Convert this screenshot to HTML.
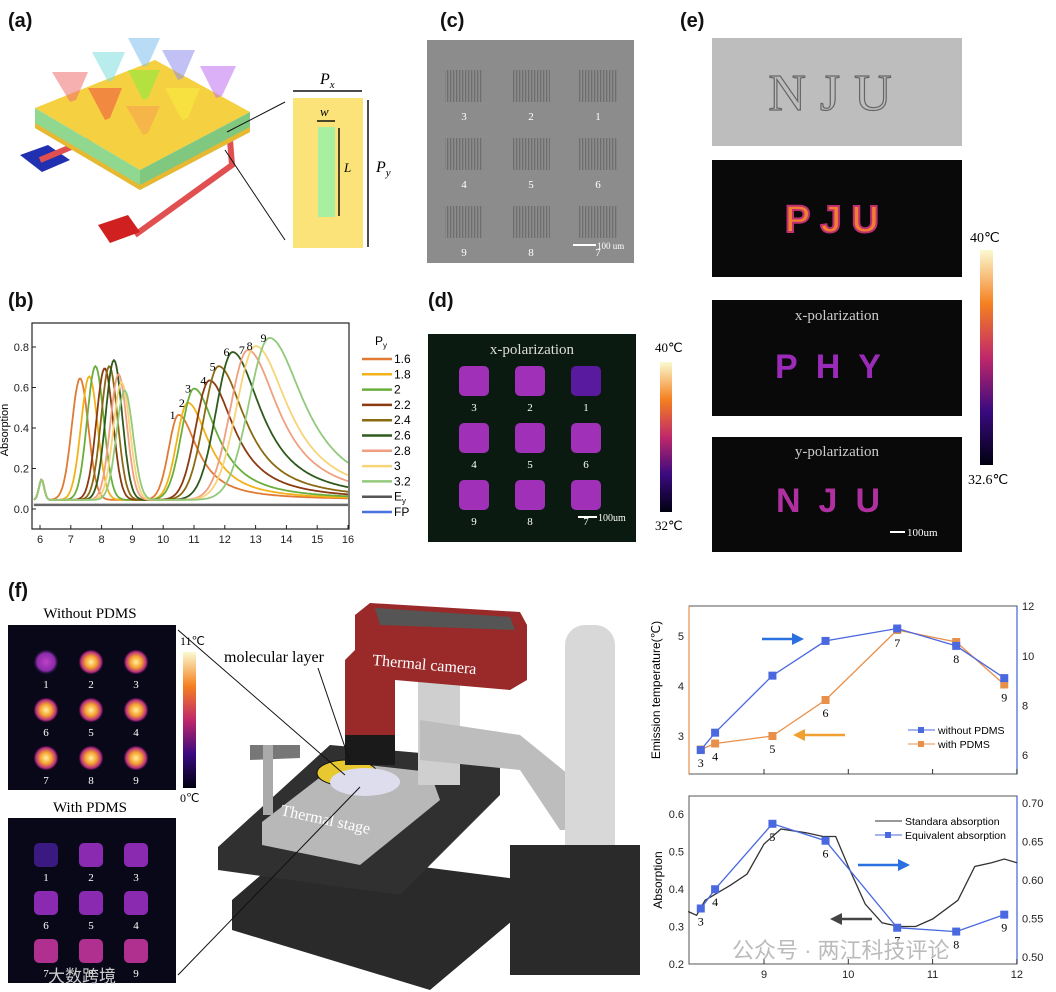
<!DOCTYPE html>
<html><head><meta charset="utf-8">
<style>
html,body{margin:0;padding:0;background:#fff;}
svg{display:block;font-family:"Liberation Sans",sans-serif;}
.lab{font-weight:bold;font-size:20px;fill:#111;}
.serif{font-family:"Liberation Serif",serif;}
.tk{font-size:11px;fill:#222;}
</style></head><body>
<svg id="fig" width="1056" height="992" viewBox="0 0 1056 992" xmlns="http://www.w3.org/2000/svg">
<defs>
<linearGradient id="cb1" x1="0" y1="1" x2="0" y2="0"><stop offset="0" stop-color="#000010"/><stop offset="0.25" stop-color="#3a0a80"/><stop offset="0.5" stop-color="#c0286a"/><stop offset="0.75" stop-color="#f58020"/><stop offset="1" stop-color="#fafad0"/></linearGradient>
<radialGradient id="sqp"><stop offset="0" stop-color="#c040c8"/><stop offset="0.7" stop-color="#8a2aa8"/><stop offset="1" stop-color="#101030" stop-opacity="0"/></radialGradient>
<radialGradient id="sqy"><stop offset="0" stop-color="#fff0a0"/><stop offset="0.45" stop-color="#f5a030"/><stop offset="0.8" stop-color="#b02880"/><stop offset="1" stop-color="#100020" stop-opacity="0"/></radialGradient>
<pattern id="grating" width="3" height="6" patternUnits="userSpaceOnUse"><rect width="1.3" height="6" fill="#666"/></pattern>
</defs>

<!-- (a) -->
<g>
<text class="lab" x="8" y="27">(a)</text>
<polygon points="20,155 48,145 70,160 42,172" fill="#2030b0"/>
<polyline points="40,160 100,135" stroke="#e05050" stroke-width="6" fill="none"/>
<polyline points="230,140 232,165 135,235" stroke="#e05050" stroke-width="6" fill="none"/>
<polygon points="98,225 128,215 140,232 110,243" fill="#d02020"/>
<polygon points="35,108 155,60 250,112 140,170" fill="#f5d040"/>
<polygon points="35,108 140,170 140,190 35,128" fill="#90d890"/>
<polygon points="140,170 250,112 250,132 140,190" fill="#80c880"/>
<polygon points="35,123 140,185 250,127 250,132 140,190 35,128" fill="#e8b830"/>
<g opacity="0.55">
<polygon points="52,72 88,72 76,100 70,102" fill="#f07070"/>
<polygon points="92,52 125,52 113,80 108,82" fill="#80e0e0"/>
<polygon points="128,38 160,38 148,65 143,67" fill="#80c0f0"/>
<polygon points="162,50 195,50 183,78 178,80" fill="#9090f0"/>
<polygon points="200,66 236,66 222,96 216,98" fill="#c070f0"/>
<polygon points="88,88 122,88 110,118 105,120" fill="#f05040"/>
<polygon points="128,70 160,70 148,98 143,100" fill="#80f040"/>
<polygon points="165,88 200,88 188,118 182,120" fill="#f8f040"/>
<polygon points="126,106 160,106 148,133 143,135" fill="#f8a050"/>
</g>
<rect x="293" y="98" width="70" height="150" fill="#fbe37a"/>
<rect x="318" y="127" width="17" height="90" fill="#a8f0a0"/>
<line x1="285" y1="102" x2="227" y2="132" stroke="#111"/>
<line x1="285" y1="240" x2="225" y2="150" stroke="#111"/>
<line x1="293" y1="91" x2="362" y2="91" stroke="#111" stroke-width="1.5"/>
<line x1="368" y1="100" x2="368" y2="247" stroke="#111" stroke-width="1.5"/>
<line x1="339" y1="128" x2="339" y2="216" stroke="#111" stroke-width="1.5"/>
<line x1="317" y1="121" x2="335" y2="121" stroke="#111" stroke-width="1.5"/>
<text class="serif" x="320" y="84" font-size="16" font-style="italic">P<tspan font-size="11" dy="4">x</tspan></text>
<text class="serif" x="320" y="116" font-size="13" font-style="italic">w</text>
<text class="serif" x="344" y="172" font-size="13" font-style="italic">L</text>
<text class="serif" x="376" y="172" font-size="16" font-style="italic">P<tspan font-size="11" dy="4">y</tspan></text>
</g>

<!-- (b) chart -->
<g id="chartB">
<text class="lab" x="8" y="307">(b)</text>
<rect x="32" y="323" width="317" height="206" fill="none" stroke="#222" stroke-width="1.2"/>
<text x="8" y="430" font-size="11" transform="rotate(-90 8 430)" text-anchor="middle">Absorption</text>
<g id="bAxes"></g><g id="bLines"></g><g id="bLegend"></g>
</g>

<!-- (c) -->
<g>
<text class="lab" x="440" y="27">(c)</text>
<rect x="427" y="40" width="207" height="223" fill="#8c8c8c"/>
<g id="semGrid"></g>
<line x1="573" y1="245" x2="596" y2="245" stroke="#fff" stroke-width="2"/>
<text x="597" y="249" font-size="9" fill="#fff" class="serif">100 um</text>
</g>

<!-- (d) -->
<g>
<text class="lab" x="428" y="307">(d)</text>
<rect x="428" y="334" width="208" height="208" fill="#0a1a10"/>
<text class="serif" x="532" y="354" font-size="15" fill="#ddd" text-anchor="middle">x-polarization</text>
<g id="dSquares"></g>
<line x1="578" y1="517" x2="597" y2="517" stroke="#fff" stroke-width="2"/>
<text x="598" y="521" font-size="10" fill="#fff" class="serif">100um</text>
<rect x="660" y="362" width="12" height="150" fill="url(#cb1)"/>
<text class="serif" x="655" y="352" font-size="13">40℃</text>
<text class="serif" x="655" y="530" font-size="13">32℃</text>
</g>

<!-- (e) -->
<g>
<text class="lab" x="680" y="27">(e)</text>
<rect x="712" y="38" width="250" height="108" fill="#bdbdbd"/>
<text class="serif" x="837" y="110" font-size="52" fill="none" stroke="#666" stroke-width="1.2" text-anchor="middle" letter-spacing="14">NJU</text>
<rect x="712" y="160" width="250" height="117" fill="#090909"/>
<text x="837" y="232" font-size="38" font-weight="bold" fill="#f08030" stroke="#c03070" stroke-width="2" text-anchor="middle" letter-spacing="10">PJU</text>
<rect x="712" y="300" width="250" height="116" fill="#090909"/>
<text class="serif" x="837" y="320" font-size="15" fill="#ccc" text-anchor="middle">x-polarization</text>
<text x="837" y="378" font-size="34" font-weight="bold" fill="#9a2ab8" text-anchor="middle" letter-spacing="18">PHY</text>
<rect x="712" y="437" width="250" height="115" fill="#090909"/>
<text class="serif" x="837" y="456" font-size="15" fill="#ccc" text-anchor="middle">y-polarization</text>
<text x="837" y="512" font-size="34" font-weight="bold" fill="#b030a0" text-anchor="middle" letter-spacing="18">NJU</text>
<line x1="890" y1="532" x2="905" y2="532" stroke="#fff" stroke-width="2"/>
<text x="907" y="536" font-size="11" fill="#fff" class="serif">100um</text>
<rect x="980" y="250" width="13" height="215" fill="url(#cb1)"/>
<text class="serif" x="970" y="242" font-size="14">40℃</text>
<text class="serif" x="968" y="484" font-size="14">32.6℃</text>
</g>

<!-- (f) thermal maps -->
<g>
<text class="lab" x="8" y="597">(f)</text>
<text class="serif" x="90" y="618" font-size="15" text-anchor="middle">Without PDMS</text>
<rect x="8" y="625" width="168" height="165" fill="#080818"/>
<text class="serif" x="90" y="812" font-size="15" text-anchor="middle">With PDMS</text>
<rect x="8" y="818" width="168" height="165" fill="#080818"/>
<g id="fSquares"></g>
<rect x="183" y="652" width="13" height="136" fill="url(#cb1)"/>
<text class="serif" x="180" y="645" font-size="12">11℃</text>
<text class="serif" x="180" y="802" font-size="12">0℃</text>
</g>

<!-- (f) apparatus -->
<g>
<polygon points="232,900 290,850 525,880 525,910 430,990 232,930" fill="#2a2a2a"/>
<polygon points="218,847 330,745 500,760 500,795 400,895 218,870" fill="#303030"/>
<polygon points="262,822 340,762 430,772 440,800 360,865 262,845" fill="#b8b8b8"/>
<ellipse cx="347" cy="773" rx="30" ry="13" fill="#e8c830" stroke="#111"/>
<rect x="418" y="665" width="42" height="120" fill="#cfcfcf"/>
<polygon points="250,745 300,745 300,758 250,760" fill="#777"/>
<rect x="263" y="745" width="10" height="70" fill="#aaa"/>
<polygon points="420,720 520,735 600,800 600,830 560,830 520,770 420,760" fill="#bdbdbd"/>
<rect x="565" y="625" width="50" height="250" rx="20" fill="#d8d8d8"/>
<rect x="510" y="845" width="130" height="130" fill="#2a2a2a"/>
<polygon points="355,615 370,603 520,612 527,625 527,680 510,690 395,680 395,740 345,740 345,660 355,650" fill="#9a2a2a"/>
<polygon points="375,608 510,617 515,630 380,625" fill="#555"/>
<rect x="345" y="735" width="50" height="30" fill="#1a1a1a"/>
<ellipse cx="365" cy="782" rx="35" ry="14" fill="#dde" />
<text class="serif" x="372" y="665" font-size="16" fill="#fff" transform="rotate(5 372 665)">Thermal camera</text>
<text class="serif" x="280" y="815" font-size="16" fill="#fff" transform="rotate(12 280 815)">Thermal stage</text>
<text class="serif" x="224" y="662" font-size="16">molecular layer</text>
<line x1="178" y1="630" x2="345" y2="775" stroke="#111"/>
<line x1="178" y1="975" x2="360" y2="787" stroke="#111"/>
<line x1="318" y1="668" x2="350" y2="762" stroke="#111"/>
</g>

<!-- (f) right charts -->
<g id="chartF1">
<rect x="689" y="606" width="328" height="168" fill="none" stroke="#555"/>
<line x1="689" y1="606" x2="689" y2="774" stroke="#e8904a" stroke-width="1.2"/>
<line x1="1017" y1="606" x2="1017" y2="774" stroke="#4060e0" stroke-width="1.2"/>
<text x="660" y="690" font-size="12" transform="rotate(-90 660 690)" text-anchor="middle">Emission temperature(℃)</text>
<g id="f1Axes"></g><g id="f1Lines"></g>
</g>
<g id="chartF2">
<rect x="689" y="796" width="328" height="168" fill="none" stroke="#555"/>
<line x1="1017" y1="796" x2="1017" y2="964" stroke="#4060e0" stroke-width="1.2"/>
<text x="662" y="880" font-size="12" transform="rotate(-90 662 880)" text-anchor="middle">Absorption</text>
<g id="f2Axes"></g><g id="f2Lines"></g>
</g>
<text x="732" y="958" font-size="22" fill="#bbb" font-family="'Liberation Sans','Noto Sans CJK SC',sans-serif">公众号 · 两江科技评论</text>
<text x="48" y="982" font-size="17" fill="#ccc" font-family="'Liberation Sans','Noto Sans CJK SC',sans-serif">大数跨境</text>
</svg>
<script>
// ---------- Panel (b) data ----------
const bSeriesNames = ["1.6","1.8","2","2.2","2.4","2.6","2.8","3","3.2"];
const bColors = ["#e07a35","#f2b21a","#6aae3c","#8b3a12","#8a6a12","#2e5a1c","#f0a080","#f8d478","#92c97a"];
const bPeak1Pos = [7.3,7.6,7.8,8.1,8.25,8.4,8.55,8.65,8.75];
const bPeak1Height = [0.60,0.61,0.66,0.65,0.66,0.69,0.62,0.58,0.54];
const bPeak2Pos = [10.5,10.8,11.0,11.5,11.8,12.25,12.75,13.0,13.45];
const bPeak2Height = [0.42,0.48,0.55,0.59,0.66,0.73,0.74,0.76,0.80];
const bPeakLabels = ["1","2","3","4","5","6","7","8","9"];
const bXTicks = [6,7,8,9,10,11,12,13,14,15,16];
const bYTicks = [0.0,0.2,0.4,0.6,0.8];
const bEyLevel = 0.02;

// ---------- Panel (f) top data ----------
const fX = [8.25,8.42,9.1,9.73,10.58,11.28,11.85];
const fLabels = ["3","4","5","6","7","8","9"];
const fWithout = [6.2,6.9,9.2,10.6,11.1,10.4,9.1];
const fWith = [2.73,2.85,3.0,3.72,5.12,4.88,4.03];
const f1XTicks = [9,10,11,12];
const f1LeftTicks = [3,4,5];
const f1RightTicks = [6,8,10,12];
// ---------- Panel (f) bottom data ----------
const fEquiv = [0.563,0.588,0.673,0.651,0.538,0.533,0.555];
const stdX = [8.1,8.2,8.3,8.45,8.6,8.8,9.0,9.2,9.5,9.7,9.85,10.0,10.2,10.4,10.6,10.8,11.0,11.3,11.5,11.7,11.85,12.0];
const stdY = [0.34,0.33,0.37,0.39,0.41,0.44,0.52,0.56,0.55,0.54,0.54,0.46,0.36,0.31,0.30,0.30,0.32,0.37,0.46,0.47,0.48,0.47];
const f2LeftTicks = [0.2,0.3,0.4,0.5,0.6];
const f2RightTicks = [0.50,0.55,0.60,0.65,0.70];

const NS="http://www.w3.org/2000/svg";
function mk(tag,attrs,parent){const e=document.createElementNS(NS,tag);for(const k in attrs)e.setAttribute(k,attrs[k]);parent.appendChild(e);return e;}

// ----- (b)
const bx=v=>40+(v-6)*30.8, by=v=>509-v*202.5;
const bA=document.getElementById('bAxes');
bXTicks.forEach(t=>{mk('line',{x1:bx(t),x2:bx(t),y1:529,y2:525,stroke:'#222'},bA);const tx=mk('text',{x:bx(t),y:543,'text-anchor':'middle',class:'tk'},bA);tx.textContent=t;

});
bYTicks.forEach(t=>{mk('line',{x1:32,x2:36,y1:by(t),y2:by(t),stroke:'#222'},bA);const tx=mk('text',{x:29,y:by(t)+4,'text-anchor':'end',class:'tk'},bA);tx.textContent=t.toFixed(1);

});
const bL=document.getElementById('bLines');
function bShape(x,i){
  let y=0.045;
  y+=0.1*Math.exp(-Math.pow((x-6.05)/0.12,2));
  const w1=0.38;y+=bPeak1Height[i]*Math.exp(-Math.pow((x-bPeak1Pos[i])/w1,2));
  const d=x-bPeak2Pos[i];
  if(d<0){const w=0.45+0.06*i;y+=bPeak2Height[i]*Math.exp(-Math.pow(d/w,2));}
  else{const w=0.75+0.08*i;y+=bPeak2Height[i]/(1+Math.pow(d/w,2));}
  return y;
}
bSeriesNames.forEach((n,i)=>{let d='';for(let x=5.8;x<=16.001;x+=0.04){d+=(d?'L':'M')+bx(x).toFixed(1)+','+by(bShape(x,i)).toFixed(1);}
const p=mk('path',{d:d,fill:'none',stroke:bColors[i],'stroke-width':1.8},bL);


const t=mk('text',{x:bx(bPeak2Pos[i])-6,y:by(bPeak2Height[i])-5,'text-anchor':'middle','font-size':12,class:'serif'},bL);t.textContent=bPeakLabels[i];

});
{let d='';for(let x=5.8;x<=16.001;x+=0.1){d+=(d?'L':'M')+bx(x).toFixed(1)+','+by(bEyLevel).toFixed(1);}
const p=mk('path',{d:d,fill:'none',stroke:'#666','stroke-width':2.5},bL);

}
const bLg=document.getElementById('bLegend');
{const t=mk('text',{x:375,y:345,'font-size':12},bLg);t.textContent='P';mk('tspan',{'font-size':8,dy:3},t).textContent='y';}
const legNames=bSeriesNames.concat(['E','FP']);const legCols=bColors.concat(['#555','#4a70e0']);
legNames.forEach((n,i)=>{const y=359+i*15.3;mk('line',{x1:362,x2:392,y1:y,y2:y,stroke:legCols[i],'stroke-width':2.5},bLg);
const t=mk('text',{x:394,y:y+4,'font-size':12},bLg);t.textContent=n;if(n==='E')mk('tspan',{'font-size':8,dy:3},t).textContent='y';

});

// ----- (c) SEM grid
const sg=document.getElementById('semGrid');
const semNums=[["3","2","1"],["4","5","6"],["9","8","7"]];
for(let r=0;r<3;r++)for(let c=0;c<3;c++){const x=445+c*67,y=70+r*68;
mk('rect',{x:x,y:y,width:38,height:32,fill:'url(#grating)',opacity:0.8},sg);
const t=mk('text',{x:x+19,y:y+50,'text-anchor':'middle','font-size':11,fill:'#fff',class:'serif'},sg);t.textContent=semNums[r][c];}
// ----- (d)
const ds=document.getElementById('dSquares');
for(let r=0;r<3;r++)for(let c=0;c<3;c++){const x=474+c*56,y=381+r*57;
mk('rect',{x:x-15,y:y-15,width:30,height:30,rx:5,fill:(r===0&&c===2)?'#5a1aa0':'#a030b8'},ds);
const t=mk('text',{x:x,y:y+30,'text-anchor':'middle','font-size':11,fill:'#fff',class:'serif'},ds);t.textContent=semNums[r][c];}
// ----- (f) maps
const fs=document.getElementById('fSquares');
const fNums=[["1","2","3"],["6","5","4"],["7","8","9"]];
for(let r=0;r<3;r++)for(let c=0;c<3;c++){
const x=46+c*45,y=662+r*48;const bright=(r>0)||c>0;
mk('rect',{x:x-13,y:y-13,width:26,height:26,rx:6,fill:bright?'url(#sqy)':'url(#sqp)'},fs);
let t=mk('text',{x:x,y:y+26,'text-anchor':'middle','font-size':11,fill:'#fff',class:'serif'},fs);t.textContent=fNums[r][c];
const y2=855+r*48;
mk('rect',{x:x-12,y:y2-12,width:24,height:24,rx:5,fill:(r===0&&c===0)?'#3a1a80':(r===2?'#b03090':'#8a2ab0')},fs);
t=mk('text',{x:x,y:y2+26,'text-anchor':'middle','font-size':11,fill:'#fff',class:'serif'},fs);t.textContent=fNums[r][c];}

// ----- (f) top chart
const fx=v=>764+(v-9)*84.3;
const f1L=v=>636-(v-5)*50, f1R=v=>755-(v-6)*24.8;
const A1=document.getElementById('f1Axes');
f1XTicks.forEach(t=>{mk('line',{x1:fx(t),x2:fx(t),y1:774,y2:769,stroke:'#333'},A1);});
f1LeftTicks.forEach(t=>{const tx=mk('text',{x:684,y:f1L(t)+4,'text-anchor':'end',class:'tk',fill:'#e8904a'},A1);tx.textContent=t;});
f1RightTicks.forEach(t=>{const tx=mk('text',{x:1022,y:f1R(t)+4,class:'tk',fill:'#4060e0'},A1);tx.textContent=t;});
const L1=document.getElementById('f1Lines');
function polyl(xs,ys,sx,sy,col,par,name){const pts=xs.map((x,i)=>sx(x).toFixed(1)+','+sy(ys[i]).toFixed(1)).join(' ');
const pl=mk('polyline',{points:pts,fill:'none',stroke:col,'stroke-width':1.3},par);


return pl;}
function marks(xs,ys,sx,sy,col,par){xs.forEach((x,i)=>{const m=mk('rect',{x:sx(x)-4,y:sy(ys[i])-4,width:8,height:8,fill:col},par);

});}
polyl(fX,fWith,fx,f1L,'#e8904a',L1,'with-pdms-line');marks(fX,fWith,fx,f1L,'#e8904a',L1);
polyl(fX,fWithout,fx,f1R,'#4a68e0',L1,'without-pdms-line');marks(fX,fWithout,fx,f1R,'#4a68e0',L1);
fX.forEach((x,i)=>{const t=mk('text',{x:fx(x),y:Math.max(f1L(fWith[i]),f1R(fWithout[i]))+17,'text-anchor':'middle','font-size':12,class:'serif'},L1);t.textContent=fLabels[i];});
mk('line',{x1:762,x2:792,y1:639,y2:639,stroke:'#2a70e0','stroke-width':2.5},L1);mk('polygon',{points:'792,633 804,639 792,645',fill:'#2a70e0'},L1);
mk('line',{x1:805,x2:845,y1:735,y2:735,stroke:'#f0a030','stroke-width':2.5},L1);mk('polygon',{points:'805,729 793,735 805,741',fill:'#f0a030'},L1);
[['without PDMS','#4a68e0',730],['with PDMS','#e8904a',744]].forEach(a=>{mk('line',{x1:908,x2:935,y1:a[2],y2:a[2],stroke:a[1]},L1);mk('rect',{x:918,y:a[2]-3,width:6,height:6,fill:a[1]},L1);
const t=mk('text',{x:938,y:a[2]+4,'font-size':10.5},L1);t.textContent=a[0];

});

// ----- (f) bottom chart
const f2L=v=>964-(v-0.2)*375, f2R=v=>957-(v-0.5)*770;
const A2=document.getElementById('f2Axes');
f1XTicks.forEach(t=>{mk('line',{x1:fx(t),x2:fx(t),y1:964,y2:959,stroke:'#333'},A2);const tx=mk('text',{x:fx(t),y:978,'text-anchor':'middle',class:'tk'},A2);tx.textContent=t;});
f2LeftTicks.forEach(t=>{const tx=mk('text',{x:684,y:f2L(t)+4,'text-anchor':'end',class:'tk'},A2);tx.textContent=t.toFixed(1);});
f2RightTicks.forEach(t=>{const tx=mk('text',{x:1022,y:f2R(t)+4,class:'tk',fill:'#4060e0'},A2);tx.textContent=t.toFixed(2);});
const L2=document.getElementById('f2Lines');
polyl(stdX,stdY,fx,f2L,'#333',L2,'standard-absorption-line');
polyl(fX,fEquiv,fx,f2R,'#4a68e0',L2,'equivalent-absorption-line');marks(fX,fEquiv,fx,f2R,'#4a68e0',L2);
fX.forEach((x,i)=>{const t=mk('text',{x:fx(x),y:f2R(fEquiv[i])+17,'text-anchor':'middle','font-size':12,class:'serif'},L2);t.textContent=fLabels[i];});
mk('line',{x1:858,x2:898,y1:865,y2:865,stroke:'#2a70e0','stroke-width':2.5},L2);mk('polygon',{points:'898,859 910,865 898,871',fill:'#2a70e0'},L2);
mk('line',{x1:842,x2:872,y1:919,y2:919,stroke:'#444','stroke-width':2.5},L2);mk('polygon',{points:'842,913 830,919 842,925',fill:'#444'},L2);
[['Standara absorption','#333',821],['Equivalent absorption','#4a68e0',835]].forEach((a,k)=>{mk('line',{x1:875,x2:902,y1:a[2],y2:a[2],stroke:a[1]},L2);if(k)mk('rect',{x:885,y:a[2]-3,width:6,height:6,fill:a[1]},L2);
const t=mk('text',{x:905,y:a[2]+4,'font-size':10.5},L2);t.textContent=a[0];

});
</script>
</body></html>
